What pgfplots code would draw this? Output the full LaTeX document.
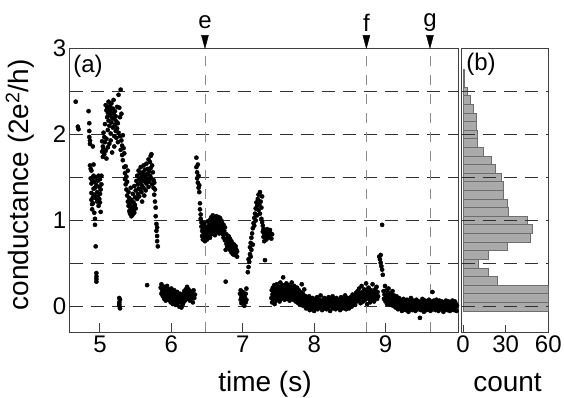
\documentclass[border=0pt]{standalone}
\usepackage{pgfplots}
\pgfplotsset{compat=1.18}
\usepackage{fontspec}
\setmainfont{Liberation Sans}
\definecolor{axisgray}{HTML}{404040}
\definecolor{dashgray}{HTML}{303030}
\definecolor{vgray}{HTML}{8A8A8A}
\definecolor{histfill}{HTML}{AAAAAA}
\definecolor{histdraw}{HTML}{6E6E6E}
\newcommand{\tickfont}{\fontsize{24}{28}\selectfont}
\newcommand{\labfont}{\fontsize{28}{32}\selectfont}
\newcommand{\hb}[3]{\addplot[fill=histfill, draw=histdraw, line width=0.7pt] coordinates {(0,#1) (#3,#1) (#3,#2) (0,#2)} -- cycle;}
\begin{document}
\begin{tikzpicture}
\path[use as bounding box] (0,0) rectangle (564pt,397pt);
\begin{axis}[
 at={(69.7pt,64.7pt)}, anchor=south west,
 scale only axis, width=388.6pt, height=284pt,
 xmin=4.576, xmax=10.017, ymin=-0.298, ymax=3,
 xtick={5,6,7,8,9}, ytick={0,1,2,3},
 tick align=inside, xtick pos=bottom, ytick pos=left,
 major tick length=9pt,
 axis line style={draw=axisgray, line width=1.2pt},
 every tick/.style={draw=axisgray, line width=1pt},
 tick label style={font=\tickfont},
 clip=false,
 xlabel={time (s)}, ylabel={conductance (2e\textsuperscript{2}/h)},
 label style={font=\labfont},
 xlabel style={at={(axis description cs:0.5026,-0.2067)}, anchor=base},
 ylabel style={at={(axis description cs:-0.128,0.519)}, anchor=center},
 /pgf/number format/assume math mode=true,
]
\pgfplotsinvokeforeach{0,0.5,1,1.5,2,2.5}{
 \addplot[dashgray, line width=1.3pt, dash pattern=on 13pt off 8pt] coordinates {(4.576,#1) (10.017,#1)};
}
\pgfplotsinvokeforeach{6.47,8.73,9.62}{
 \addplot[vgray, line width=0.8pt, dash pattern=on 10pt off 9pt] coordinates {(#1,-0.298) (#1,3)};
}
\addplot[only marks, mark=triangle*, mark size=6pt, black, mark options={rotate=180, xscale=0.67, yscale=1.44}] coordinates {(6.47,3.10) (8.73,3.10) (9.62,3.10)};
\node[font=\tickfont] at (axis cs:6.47,3.30) {e};
\node[font=\tickfont] at (axis cs:8.73,3.30) {f};
\node[font=\tickfont] at (axis cs:9.62,3.30) {g};
\node[font=\tickfont] at (rel axis cs:0.047,0.938) {(a)};
\addplot[only marks, mark=*, mark size=2.1pt, black] coordinates {
(4.66,2.38) (4.70,2.06) (4.69,2.09) (4.84,2.27) (4.85,2.13) (4.85,2.04) (4.85,1.97) (4.86,1.93) (4.86,1.89) (4.86,1.64)
(4.87,1.60) (4.87,1.49) (4.88,1.58) (4.88,1.43) (4.88,1.32) (4.88,1.24) (4.89,1.19) (4.89,1.47) (4.89,1.13) (4.90,1.27)
(4.90,1.20) (4.90,1.86) (4.91,1.37) (4.91,1.52) (4.91,1.65) (4.92,1.30) (4.92,1.09) (4.92,1.45) (4.93,1.02) (4.93,1.38)
(4.93,0.95) (4.94,1.26) (4.94,0.70) (4.94,1.50) (4.95,0.39) (4.95,0.35) (4.95,0.32) (4.95,0.29) (4.95,1.41) (4.96,1.33)
(4.96,1.22) (4.97,1.46) (4.97,1.28) (4.98,1.52) (4.98,1.17) (4.99,1.39) (4.99,1.25) (5.00,1.31) (5.00,1.21) (5.00,1.48)
(5.01,1.36) (5.01,1.10) (5.02,1.42) (5.02,1.52)
(5.03,1.92) (5.03,1.80) (5.04,1.86) (5.04,1.74) (5.05,1.83) (5.05,2.02) (5.06,1.97) (5.06,1.77) (5.07,1.91) (5.07,2.12)
(5.08,1.81) (5.08,2.34) (5.09,2.28) (5.09,1.72) (5.09,1.95) (5.10,2.20) (5.10,2.31) (5.11,2.25) (5.11,1.85) (5.11,2.05)
(5.12,2.38) (5.12,2.16) (5.13,2.29) (5.13,1.89) (5.13,2.10) (5.14,2.33) (5.14,2.22) (5.15,2.26) (5.15,2.01) (5.15,1.93)
(5.16,2.36) (5.16,2.14) (5.17,2.19) (5.17,1.79) (5.18,2.30) (5.18,2.08) (5.19,2.24) (5.19,2.40) (5.20,2.18) (5.20,1.98)
(5.20,1.86) (5.21,2.27) (5.21,2.11) (5.22,2.04) (5.22,2.21) (5.23,2.15) (5.23,1.96) (5.24,2.32) (5.24,2.07) (5.25,2.13)
(5.25,1.91) (5.26,2.46) (5.26,2.02) (5.27,2.31) (5.27,0.10) (5.27,0.05) (5.27,0.01) (5.28,0.08) (5.28,-0.02) (5.27,0.03)
(5.28,2.20) (5.28,1.98) (5.29,2.52) (5.29,1.82) (5.30,2.24) (5.30,1.93) (5.31,1.87) (5.31,1.76) (5.32,1.99) (5.32,1.70)
(5.33,1.84) (5.34,1.62) (5.34,1.78) (5.35,1.55)
(5.35,1.48) (5.36,1.42) (5.36,1.63) (5.37,1.36) (5.37,1.51) (5.38,1.29) (5.38,1.45) (5.39,1.22) (5.39,1.58) (5.40,1.17)
(5.40,1.33) (5.41,1.11) (5.41,1.26) (5.42,1.08) (5.42,1.20) (5.43,1.14) (5.43,1.38) (5.44,1.05) (5.44,1.24) (5.45,1.10)
(5.45,1.16) (5.46,1.07) (5.46,1.31) (5.47,1.13) (5.47,1.21) (5.48,1.40) (5.48,1.09) (5.49,1.18) (5.49,1.27) (5.50,1.35)
(5.50,1.14) (5.51,1.46)
(5.52,1.25) (5.52,1.52) (5.53,1.31) (5.53,1.42) (5.54,1.37) (5.54,1.58) (5.55,1.48) (5.55,1.28) (5.56,1.55) (5.56,1.36)
(5.57,1.44) (5.57,1.62) (5.58,1.33) (5.58,1.51) (5.59,1.40) (5.59,1.22) (5.60,1.47) (5.60,1.56) (5.61,1.38) (5.61,1.64)
(5.62,1.53) (5.62,1.29) (5.63,1.45) (5.63,1.59) (5.64,1.50) (5.64,1.35) (5.65,1.66) (5.65,1.43) (5.66,0.25) (5.66,1.54)
(5.67,1.60) (5.67,1.48) (5.68,1.71) (5.68,1.39) (5.69,1.57) (5.69,1.45) (5.70,1.68) (5.70,1.52) (5.71,1.75) (5.71,1.61)
(5.72,1.77) (5.72,1.49) (5.73,1.64) (5.73,1.42) (5.74,1.56) (5.75,1.38) (5.75,1.47) (5.76,1.30) (5.76,1.44) (5.77,1.22)
(5.77,1.36) (5.78,1.15) (5.78,1.05) (5.79,0.96) (5.79,0.88) (5.80,0.82) (5.80,0.76) (5.81,0.70) (5.80,0.92)
(5.85,0.22) (5.86,0.15) (5.86,0.26) (5.87,0.18) (5.88,0.12) (5.88,0.20) (5.89,0.16) (5.90,0.09) (5.90,0.23) (5.91,0.14)
(5.92,0.19) (5.92,0.07) (5.93,0.11) (5.94,0.17) (5.94,0.24) (5.95,0.13) (5.96,0.08) (5.96,0.20) (5.97,0.15) (5.98,0.10)
(5.98,0.18) (5.99,0.05) (6.00,0.14) (6.00,0.21) (6.01,0.09) (6.02,0.16) (6.02,0.03) (6.03,0.12) (6.04,0.07) (6.04,0.19)
(6.05,0.10) (6.06,0.02) (6.06,0.14) (6.07,0.08) (6.08,0.17) (6.08,0.04) (6.09,0.11) (6.10,0.06) (6.10,0.13) (6.11,0.00)
(6.12,0.09) (6.12,0.15) (6.13,0.05) (6.14,0.11) (6.14,-0.01) (6.15,0.08) (6.16,0.14) (6.16,0.03) (6.17,0.10) (6.18,0.06)
(6.18,0.18) (6.19,0.12) (6.20,0.20) (6.20,0.08) (6.21,0.15) (6.22,0.11) (6.22,0.23) (6.23,0.17) (6.24,0.09) (6.24,0.20)
(6.25,0.13) (6.26,0.18) (6.26,0.07) (6.27,0.14) (6.28,0.10) (6.29,0.16) (6.30,0.05) (6.30,0.12) (6.31,0.19) (6.32,0.10)
(6.33,0.14)
(6.35,1.73) (6.35,1.62) (6.36,1.56) (6.36,1.49) (6.37,1.65) (6.37,1.44) (6.38,1.52) (6.38,1.38) (6.39,1.41) (6.39,1.33)
(6.40,1.20) (6.40,1.13) (6.41,1.07) (6.41,1.02) (6.42,0.98) (6.42,0.93)
(6.43,0.88) (6.43,0.82) (6.44,0.95) (6.44,0.78) (6.45,0.86) (6.45,0.91) (6.46,0.80) (6.46,0.97) (6.47,0.84) (6.47,0.76)
(6.48,0.89) (6.48,0.93) (6.49,0.81) (6.49,0.87) (6.50,0.92) (6.50,0.78) (6.51,0.85) (6.51,0.99) (6.52,0.90) (6.52,0.83)
(6.53,0.95) (6.53,0.87) (6.54,1.01) (6.54,0.80) (6.55,0.93) (6.55,0.88) (6.56,1.04) (6.56,0.84) (6.57,0.97) (6.57,0.91)
(6.58,1.06) (6.58,0.86) (6.59,0.99) (6.59,0.93) (6.60,0.89) (6.60,1.02) (6.61,0.95) (6.61,0.83) (6.62,1.00) (6.62,0.90)
(6.63,0.96) (6.63,1.05) (6.64,0.87) (6.64,0.93) (6.65,1.01) (6.65,0.97) (6.66,0.91) (6.66,1.04) (6.67,0.85) (6.67,0.99)
(6.68,0.94) (6.68,1.03) (6.69,0.90) (6.69,0.96) (6.70,1.00) (6.70,0.87) (6.71,0.93) (6.71,0.97) (6.72,0.84) (6.72,0.90)
(6.73,0.95) (6.73,0.80) (6.74,0.88) (6.75,0.92) (6.75,0.77) (6.76,0.29) (6.76,0.66) (6.77,0.84) (6.77,0.73) (6.78,0.79)
(6.78,0.70) (6.79,0.76) (6.80,0.82) (6.80,0.68) (6.81,0.74) (6.82,0.79) (6.82,0.66) (6.83,0.71) (6.84,0.76) (6.84,0.63)
(6.85,0.69) (6.86,0.73) (6.86,0.61) (6.87,0.67) (6.88,0.72) (6.88,0.60) (6.89,0.65) (6.90,0.70) (6.90,0.62) (6.91,0.66)
(6.92,0.58) (6.92,0.64)
(6.96,0.15) (6.97,0.08) (6.97,0.19) (6.98,0.11) (6.98,0.04) (6.99,0.14) (7.00,0.09) (7.00,0.17) (7.01,0.06) (7.02,0.12)
(7.02,0.01) (7.03,0.10) (7.04,0.15) (7.04,0.05) (7.05,0.08) (7.05,0.21)
(7.07,0.40) (7.08,0.46) (7.08,0.55) (7.09,0.52) (7.10,0.61) (7.10,0.69) (7.11,0.58) (7.11,0.74) (7.12,0.66) (7.12,0.80)
(7.13,0.85) (7.14,0.72) (7.14,0.91) (7.15,0.97) (7.16,1.03) (7.16,0.94) (7.17,1.08) (7.18,1.14) (7.18,1.00) (7.19,1.21)
(7.20,1.06) (7.20,1.17) (7.21,1.25) (7.22,1.12) (7.22,1.30) (7.23,1.19) (7.24,1.33) (7.24,1.08) (7.25,1.22) (7.26,1.02)
(7.26,1.15) (7.27,0.98) (7.27,1.28) (7.28,0.94) (7.28,0.87) (7.29,0.90) (7.29,0.81) (7.30,0.85) (7.30,0.76) (7.31,0.88)
(7.31,0.54) (7.32,0.82) (7.33,0.86) (7.33,0.78) (7.34,0.90) (7.35,0.84) (7.35,0.80) (7.36,0.87) (7.37,0.83) (7.38,0.89)
(7.39,0.85) (7.40,0.79) (7.41,0.84)
(7.400,0.10) (7.405,0.19) (7.410,0.05) (7.415,0.14) (7.420,0.22) (7.425,0.08) (7.430,0.16) (7.435,0.12) (7.440,0.25) (7.445,0.03)
(7.450,0.18) (7.455,0.11) (7.460,0.21) (7.465,0.07) (7.470,0.15) (7.475,0.26) (7.480,0.13) (7.485,0.09) (7.490,0.20) (7.495,0.16)
(7.500,0.11) (7.505,0.23) (7.510,0.14) (7.515,0.06) (7.520,0.19) (7.525,0.28) (7.530,0.12) (7.535,0.17) (7.540,0.09) (7.545,0.22)
(7.550,0.15) (7.555,0.25) (7.560,0.10) (7.565,0.34) (7.570,0.18) (7.575,0.13) (7.580,0.21) (7.585,0.08) (7.590,0.24) (7.595,0.16)
(7.600,0.12) (7.605,0.19) (7.610,0.27) (7.615,0.14) (7.620,0.09) (7.625,0.22) (7.630,0.17) (7.635,0.11) (7.640,0.25) (7.645,0.15)
(7.650,0.20) (7.655,0.07) (7.660,0.18) (7.665,0.13) (7.670,0.23) (7.675,0.10) (7.680,0.16) (7.685,0.28) (7.690,0.12) (7.695,0.19)
(7.700,0.14) (7.705,0.21) (7.710,0.08) (7.715,0.17) (7.720,0.24) (7.725,0.11) (7.730,0.15) (7.735,0.20) (7.740,0.06) (7.745,0.13)
(7.750,0.18) (7.755,0.09) (7.760,0.22) (7.765,0.12) (7.770,0.16) (7.775,0.04) (7.780,0.11) (7.785,0.19) (7.790,0.08) (7.795,0.14)
(7.800,0.02) (7.805,0.10) (7.810,0.17) (7.815,0.06) (7.820,0.12) (7.825,0.26) (7.830,0.04) (7.835,0.09) (7.840,0.15) (7.845,0.01)
(7.850,0.07) (7.855,0.13) (7.860,0.20) (7.865,0.03) (7.870,0.09) (7.875,0.05) (7.880,0.12) (7.885,-0.02) (7.890,0.07) (7.895,0.03)
(7.900,0.05) (7.907,-0.01) (7.914,0.09) (7.921,0.02) (7.928,0.12) (7.935,-0.04) (7.942,0.06) (7.949,0.01) (7.956,0.08) (7.963,-0.03)
(7.970,0.04) (7.977,0.10) (7.984,0.00) (7.991,0.07) (7.998,-0.05) (8.005,0.03) (8.012,0.09) (8.019,-0.02) (8.026,0.05) (8.033,0.01)
(8.040,0.11) (8.047,-0.03) (8.054,0.06) (8.061,0.02) (8.068,0.08) (8.075,-0.01) (8.082,0.04) (8.089,0.13) (8.096,0.00) (8.103,0.06)
(8.110,-0.04) (8.117,0.03) (8.124,0.08) (8.131,0.01) (8.138,0.10) (8.145,-0.02) (8.152,0.05) (8.159,0.02) (8.166,0.09) (8.173,-0.03)
(8.180,0.04) (8.187,0.07) (8.194,-0.01) (8.201,0.11) (8.208,0.03) (8.215,0.06) (8.222,-0.05) (8.229,0.02) (8.236,0.08) (8.243,0.00)
(8.250,0.05) (8.257,0.12) (8.264,-0.02) (8.271,0.04) (8.278,0.09) (8.285,0.01) (8.292,0.06) (8.299,-0.03) (8.306,0.03) (8.313,0.10)
(8.320,0.00) (8.327,0.07) (8.334,-0.01) (8.341,0.05) (8.348,0.02) (8.355,0.08) (8.362,-0.04) (8.369,0.04) (8.376,0.11) (8.383,0.01)
(8.390,0.06) (8.397,-0.02) (8.404,0.03) (8.411,0.09) (8.418,0.00) (8.425,0.05) (8.432,0.13) (8.439,0.02) (8.446,-0.03) (8.453,0.07)
(8.460,0.04) (8.467,0.10) (8.474,0.01) (8.481,0.06) (8.488,-0.02) (8.495,0.08) (8.502,0.03) (8.509,0.11) (8.516,0.05) (8.523,0.00)
(8.530,0.09) (8.537,0.14) (8.544,0.04) (8.551,0.10) (8.558,0.07) (8.565,0.13) (8.572,0.02) (8.579,0.09) (8.586,0.16) (8.593,0.06)
(8.600,0.11) (8.607,0.18) (8.614,0.07) (8.621,0.14) (8.628,0.21) (8.635,0.09) (8.642,0.16) (8.649,0.04) (8.656,0.13) (8.663,0.24)
(8.670,0.10) (8.677,0.17) (8.684,0.06) (8.691,0.15) (8.698,0.20) (8.705,0.12) (8.712,0.08) (8.719,0.19) (8.726,0.27) (8.733,0.14)
(8.740,0.03) (8.747,0.10) (8.754,0.17) (8.761,0.22) (8.768,0.09) (8.775,0.15) (8.782,0.05) (8.789,0.12) (8.796,0.19) (8.803,0.08)
(8.810,0.14) (8.817,0.26) (8.824,0.11) (8.831,0.16) (8.838,0.06) (8.845,0.13) (8.852,0.20) (8.859,0.10) (8.866,0.15) (8.873,0.23)
(8.880,0.09) (8.887,0.17) (8.894,0.12)
(8.95,0.95) (8.91,0.58) (8.92,0.55) (8.93,0.60) (8.93,0.51) (8.94,0.47) (8.95,0.43) (8.96,0.37)
(8.970,0.18) (8.977,0.09) (8.984,0.14) (8.991,0.24) (8.998,0.06) (9.005,0.12) (9.012,0.19) (9.019,0.03) (9.026,0.10) (9.033,0.16)
(9.040,0.21) (9.047,0.07) (9.054,0.13) (9.061,0.02) (9.068,0.09) (9.075,0.15) (9.082,0.05) (9.089,0.11) (9.096,0.18) (9.103,0.01)
(9.110,0.08) (9.117,0.13) (9.124,0.04) (9.131,0.10) (9.138,-0.01) (9.145,0.06) (9.152,0.12) (9.159,0.02) (9.166,0.08) (9.173,-0.03)
(9.180,0.05) (9.187,0.10) (9.194,0.00)
(9.200,0.04) (9.207,-0.02) (9.214,0.07) (9.221,0.01) (9.228,-0.05) (9.235,0.05) (9.242,0.00) (9.249,0.09) (9.256,-0.03) (9.263,0.03)
(9.270,-0.01) (9.277,0.06) (9.284,-0.04) (9.291,0.02) (9.298,0.08) (9.305,-0.02) (9.312,0.04) (9.319,-0.06) (9.326,0.01) (9.333,0.06)
(9.340,-0.03) (9.347,0.03) (9.354,0.10) (9.361,-0.01) (9.368,0.05) (9.375,-0.04) (9.382,0.02) (9.389,0.07) (9.396,-0.02) (9.403,0.00)
(9.410,0.05) (9.417,-0.05) (9.424,0.03) (9.431,0.08) (9.438,-0.01) (9.445,0.04) (9.452,-0.03) (9.459,0.01) (9.466,0.06) (9.473,-0.02)
(9.480,-0.13) (9.487,0.03) (9.494,-0.04) (9.501,0.05) (9.508,0.00) (9.515,0.09) (9.522,-0.02) (9.529,0.02) (9.536,-0.06) (9.543,0.04)
(9.550,0.07) (9.557,-0.01) (9.564,0.03) (9.571,-0.04) (9.578,0.06) (9.585,0.01) (9.592,-0.03) (9.599,0.04) (9.606,0.08) (9.613,-0.02)
(9.620,0.02) (9.627,-0.05) (9.634,0.05) (9.641,0.00) (9.648,0.06) (9.655,0.17) (9.662,-0.03) (9.669,0.03) (9.676,0.07) (9.683,-0.01)
(9.690,0.04) (9.697,-0.04) (9.704,0.02) (9.711,0.08) (9.718,-0.02) (9.725,0.01) (9.732,0.05) (9.739,-0.05) (9.746,0.03) (9.753,0.07)
(9.760,-0.01) (9.767,0.04) (9.774,-0.03) (9.781,0.02) (9.788,0.06) (9.795,-0.02) (9.802,0.03) (9.809,-0.06) (9.816,0.01) (9.823,0.05)
(9.830,-0.03) (9.837,0.02) (9.844,0.07) (9.851,-0.01) (9.858,0.04) (9.865,-0.04) (9.872,0.00) (9.879,0.06) (9.886,-0.02) (9.893,0.03)
(9.900,-0.05) (9.907,0.01) (9.914,0.05) (9.921,-0.03) (9.928,0.02) (9.935,0.07) (9.942,-0.01) (9.949,0.04) (9.956,-0.04) (9.963,0.02)
(9.970,0.06) (9.977,-0.02) (9.984,0.03) (9.991,-0.05) (9.998,0.01)
};
\end{axis}
\begin{axis}[
 at={(461.7pt,64.7pt)}, anchor=south west,
 scale only axis, width=86.6pt, height=284pt,
 xmin=-1, xmax=60, ymin=-0.298, ymax=3,
 xtick={0,30,60}, ytick={-1},
 tick align=inside, xtick pos=bottom,
 major tick length=7pt,
 axis line style={draw=axisgray, line width=1.2pt},
 every tick/.style={draw=axisgray, line width=1pt},
 tick label style={font=\tickfont},
 xlabel={count},
 label style={font=\labfont},
 xlabel style={at={(axis description cs:0.529,-0.2067)}, anchor=base},
 /pgf/number format/assume math mode=true,
]
\hb{-0.05}{0.05}{70}
\hb{0.05}{0.15}{70}
\hb{0.15}{0.25}{70}
\hb{0.25}{0.35}{24}
\hb{0.35}{0.45}{18}
\hb{0.45}{0.55}{11}
\hb{0.55}{0.65}{18}
\hb{0.65}{0.75}{31}
\hb{0.75}{0.85}{47}
\hb{0.85}{0.95}{49}
\hb{0.95}{1.05}{45}
\hb{1.05}{1.15}{32}
\hb{1.15}{1.25}{31}
\hb{1.25}{1.35}{28}
\hb{1.35}{1.45}{28}
\hb{1.45}{1.55}{27}
\hb{1.55}{1.65}{23}
\hb{1.65}{1.75}{20}
\hb{1.75}{1.85}{14}
\hb{1.85}{1.95}{10}
\hb{1.95}{2.05}{10}
\hb{2.05}{2.15}{9}
\hb{2.15}{2.25}{9}
\hb{2.25}{2.35}{7}
\hb{2.35}{2.45}{5}
\hb{2.45}{2.55}{3}
\hb{2.55}{2.65}{1}
\hb{2.65}{2.75}{1}
\pgfplotsinvokeforeach{0,0.5,1,1.5,2,2.5}{
 \addplot[dashgray, line width=1.3pt, dash pattern=on 13pt off 8pt] coordinates {(-1,#1) (60,#1)};
}
\node[font=\tickfont] at (rel axis cs:0.223,0.945) {(b)};
\end{axis}
\end{tikzpicture}
\end{document}
